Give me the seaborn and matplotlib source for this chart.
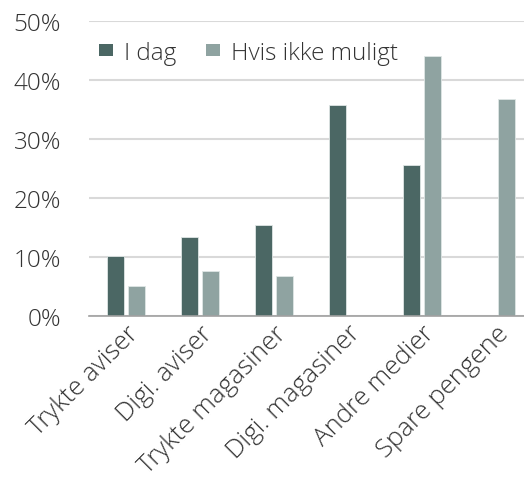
import pandas as pd
import matplotlib.pyplot as plt
import seaborn as sns
from matplotlib.ticker import PercentFormatter

categories = ["Trykte aviser", "Digi. aviser", "Trykte magasiner",
              "Digi. magasiner", "Andre medier", "Spare pengene"]
i_dag = [10.2, 13.4, 15.4, 35.8, 25.6, 0.0]
hvis_ikke = [5.1, 7.6, 6.8, 0.0, 44.1, 36.8]
series = ["I dag", "Hvis ikke muligt"]

df = pd.DataFrame({
    "kategori": categories * 2,
    "serie": [series[0]] * len(categories) + [series[1]] * len(categories),
    "andel": i_dag + hvis_ikke,
})

sns.set_style("white")
plt.rcParams["font.family"] = ["Open Sans", "DejaVu Sans"]
plt.rcParams["font.weight"] = "light"

fig = plt.figure(figsize=(5.24, 4.85), dpi=100)
ax = fig.add_axes([0.170, 0.346, 0.847, 0.609])

sns.barplot(
    data=df, x="kategori", y="andel", hue="serie",
    palette=["#476b68", "#8ba7a4"], width=0.57, gap=0.22,
    edgecolor="#dfe6e5", linewidth=0.6, ax=ax,
)

ax.set_ylim(0, 50)
ax.set_yticks(range(0, 51, 10))
ax.yaxis.set_major_formatter(PercentFormatter(decimals=0))
ax.yaxis.grid(True, color="#d9d9d9", linewidth=1.5)
ax.set_axisbelow(True)
for s in ["top", "right", "left"]:
    ax.spines[s].set_visible(False)
ax.spines["bottom"].set_color("#a0a0a0")
ax.spines["bottom"].set_linewidth(1.2)
ax.set_xlabel("")
ax.set_ylabel("")
ax.tick_params(axis="y", length=0, pad=20, labelsize=17.5, labelcolor="#333333")
ax.tick_params(axis="x", length=0, pad=3, labelsize=18.5, labelcolor="#333333")
plt.setp(ax.get_xticklabels(), rotation=45, ha="right", rotation_mode="anchor")

leg = ax.legend(loc="center left", bbox_to_anchor=(0.022, 0.892), ncol=2, frameon=False,
                fontsize=17.5, handlelength=0.6, handleheight=0.35, handletextpad=0.45,
                columnspacing=1.2, labelcolor="#333333", borderpad=0, borderaxespad=0)
for h in leg.legend_handles:
    h.set_edgecolor("none")

fig.savefig("out.png", dpi=100)
